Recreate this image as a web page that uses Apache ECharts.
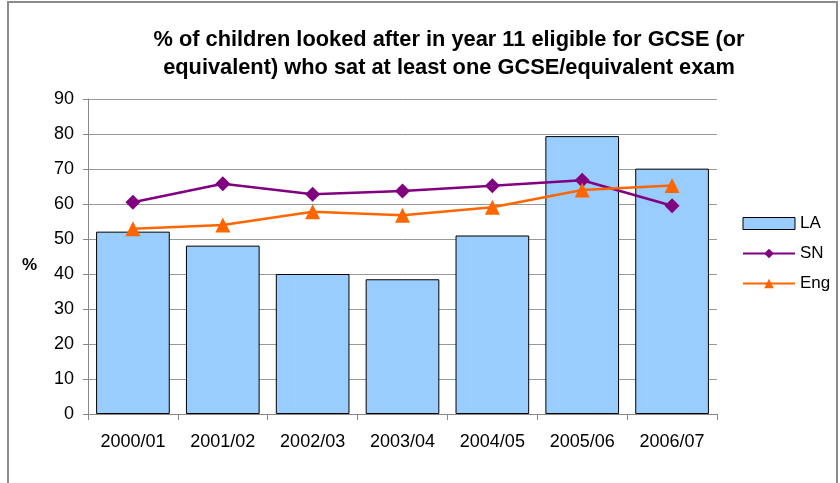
<!DOCTYPE html>
<html>
<head>
<meta charset="utf-8">
<script src="https://cdn.jsdelivr.net/npm/echarts@6/dist/echarts.min.js"></script>
<style>
  html, body { margin: 0; padding: 0; background: #fff; }
  #chart { width: 840px; height: 483px; }
  #frame { position: absolute; left: 7px; top: 1px; width: 831px; height: 490px; border: 2px solid #8c8c8c; box-sizing: border-box; pointer-events: none; }
</style>
</head>
<body>
<div id="chart"></div>
<div id="frame"></div>
<script>
// data
var years = ['2000/01', '2001/02', '2002/03', '2003/04', '2004/05', '2005/06', '2006/07'];
var la = [52.1, 48.1, 40.0, 38.5, 51.0, 79.4, 70.1];
var sn = [60.5, 65.8, 62.8, 63.7, 65.2, 66.8, 59.5];
var eng = [52.9, 54.0, 57.8, 56.8, 59.1, 64.0, 65.3];

var myChart = echarts.init(document.getElementById('chart'));

var option = {
  animation: false,
  textStyle: { fontFamily: 'Liberation Sans, Arial, sans-serif' },
  title: {
    text: '% of children looked after in year 11 eligible for GCSE (or\nequivalent) who sat at least one GCSE/equivalent exam',
    left: 444,
    top: 21,
    textAlign: 'center',
    textStyle: { fontSize: 21.8, fontWeight: 'bold', color: '#000', lineHeight: 28 }
  },
  legend: {
    orient: 'vertical',
    left: 737,
    top: 210,
    itemWidth: 52,
    itemHeight: 12,
    itemGap: 13,
    textStyle: { fontSize: 17, color: '#000' },
    data: [
      { name: 'LA', icon: 'rect', itemStyle: { borderWidth: 1, borderColor: '#000' } },
      'SN',
      'Eng'
    ]
  },
  graphic: [{
    type: 'text',
    left: 22,
    top: 257,
    style: { text: '%', fontSize: 17, fontWeight: 'bold', fill: '#000', fontFamily: 'Liberation Sans, Arial, sans-serif' }
  }],
  grid: { left: 88, right: 123, top: 99, bottom: 69 },
  xAxis: {
    type: 'category',
    data: years,
    axisLine: { lineStyle: { color: '#888', width: 1 } },
    axisTick: { show: true, length: 6, lineStyle: { color: '#888' } },
    axisLabel: { fontSize: 18, color: '#000', margin: 19 }
  },
  yAxis: {
    type: 'value',
    min: 0,
    max: 90,
    interval: 10,
    axisLine: { show: true, lineStyle: { color: '#888', width: 1 } },
    axisTick: { show: true, length: 5, lineStyle: { color: '#888' } },
    axisLabel: { fontSize: 18, color: '#000', margin: 14 },
    splitLine: { lineStyle: { color: '#999', width: 1 } }
  },
  series: [
    {
      name: 'LA',
      type: 'bar',
      data: la,
      barCategoryGap: '18%',
      itemStyle: { color: '#99CCFF', borderColor: '#000', borderWidth: 1 }
    },
    {
      name: 'SN',
      type: 'line',
      data: sn,
      symbol: 'diamond',
      symbolSize: 15,
      color: '#800080',
      lineStyle: { width: 2.5, color: '#800080' },
      itemStyle: { color: '#800080' }
    },
    {
      name: 'Eng',
      type: 'line',
      data: eng,
      symbol: 'triangle',
      symbolSize: 15,
      color: '#FF6600',
      lineStyle: { width: 2.5, color: '#FF6600' },
      itemStyle: { color: '#FF6600' }
    }
  ]
};

myChart.setOption(option);
</script>
</body>
</html>
